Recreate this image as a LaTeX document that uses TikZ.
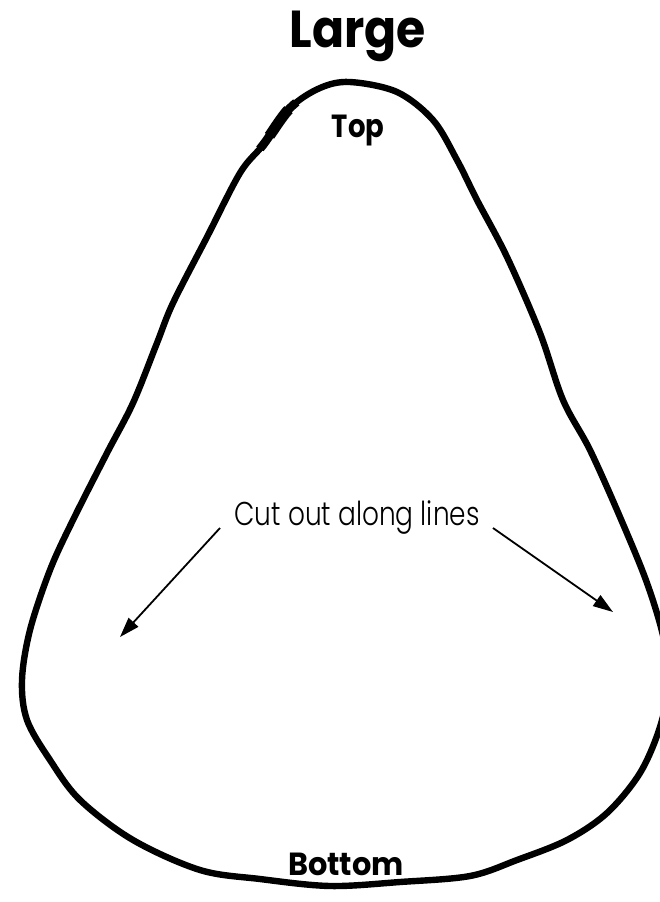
\documentclass[tikz,border=0pt]{standalone}
\usepackage{fontspec}
\setmainfont{Poppins}
\newfontfamily\popbold{Poppins}[UprightFont=* Bold]
\newfontfamily\poplight{Poppins}[UprightFont=* Light]
\usetikzlibrary{arrows.meta}
\begin{document}
\begin{tikzpicture}[x=0.5pt,y=-0.5pt,
  outline/.style={line width=3.2pt,line join=round},
  cutarrow/.style={line width=0.9pt,-{Triangle[length=10pt,width=6.5pt]}},
  heading/.style={font=\popbold\fontsize{26}{30}\selectfont,inner sep=0pt},
  tag/.style={font=\popbold\fontsize{16}{19}\selectfont,inner sep=0pt},
  note/.style={font=\poplight\fontsize{16.5}{19}\selectfont,inner sep=0pt}]
\useasboundingbox (0,0) rectangle (660,902);
\clip (0,0) rectangle (660,902);
\path[save path=\outl] plot[smooth cycle,tension=0.55] coordinates {
 (350,82) (397,92) (433,120) (457,160) (477,200) (507,257) (540,333)
 (563,400) (590,450) (620,517) (647,583) (664,640) (668,685) (660,727)
 (640,773) (607,813) (567,840) (517,860) (470,876) (400,882) (330,886)
 (260,879) (200,870) (133,840) (80,800) (50,760) (27,720) (22,680) (30,630)
 (50,570) (73,520) (107,453) (133,403) (157,343) (173,303) (207,237)
 (240,173) (263,145) (290,108) (320,88)};
\draw[outline,use path=\outl];
\begin{scope}
  \clip (276,124) circle (30);
  \draw[line width=4.3pt,use path=\outl];
\end{scope}
\begin{scope}
  \clip (278,122) circle (17);
  \draw[line width=5.4pt,use path=\outl];
\end{scope}
\node[heading,anchor=base] (large) at (358,47) {\scalebox{0.91}[1]{Large}};
\node[tag,anchor=base] (top) at (358,137) {\scalebox{0.86}[1]{Top}};
\node[tag,anchor=base] (bottom) at (346,875) {\scalebox{0.95}[1]{Bottom}};
\node[note,anchor=base] (cut) at (357,525) {\scalebox{0.80}[1]{Cut out along lines}};
\coordinate (lt) at (120,637);
\coordinate (rt) at (613,612);
\coordinate (ls) at (220,528);
\coordinate (rs) at (493,528);
\draw[cutarrow] (ls) -- (lt);
\draw[cutarrow] (rs) -- (rt);
\end{tikzpicture}
\end{document}
